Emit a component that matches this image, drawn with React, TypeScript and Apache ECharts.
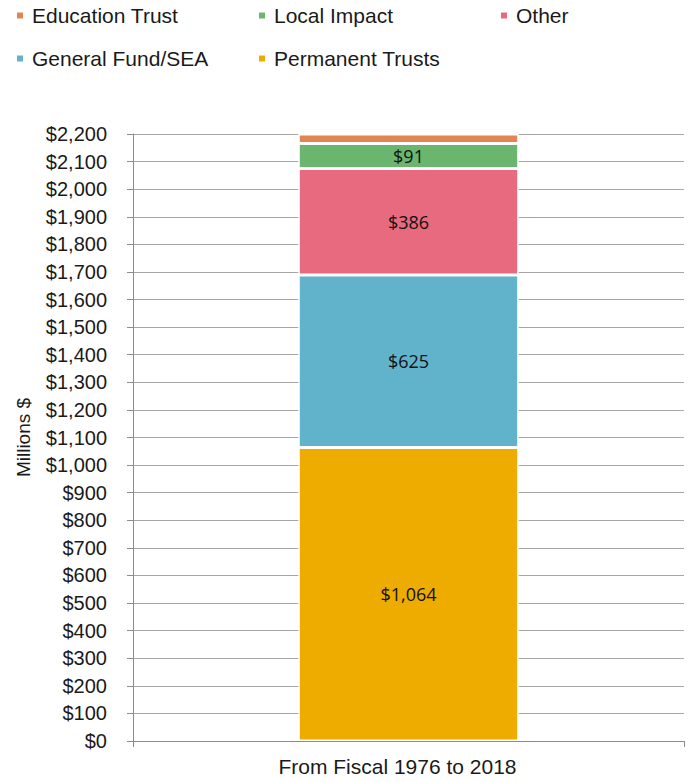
import React, { useEffect, useRef } from "react";
import * as echarts from "echarts";

const categories = ["From Fiscal 1976 to 2018"];
const permanentTrusts = [1064];
const generalFund = [625];
const other = [386];
const localImpact = [91];
const educationTrust = [34];
const seriesNames = ["Education Trust", "Local Impact", "Other", "General Fund/SEA", "Permanent Trusts"];
const seriesColors = ["#E38552", "#6BB66F", "#E76A7E", "#61B3CC", "#EFAC00"];

const fmt = (v: number) => "$" + v.toLocaleString("en-US");

export default function App() {
  const ref = useRef<HTMLDivElement>(null);
  useEffect(() => {
    if (!ref.current) return;
    const chart = echarts.init(ref.current, null, { renderer: "svg" });
    const legendPos = [
      { left: 10, top: 0 },
      { left: 252, top: 0 },
      { left: 494, top: 0 },
      { left: 10, top: 43 },
      { left: 252, top: 43 },
    ];
    const legends = seriesNames.map((n, i) => ({
      data: [n],
      left: legendPos[i].left,
      top: legendPos[i].top,
      icon: "rect",
      itemWidth: 8,
      itemHeight: 8,
      itemGap: 6,
      textStyle: { fontFamily: "Liberation Sans, Arial", fontSize: 21, color: "#1a1a1a", padding: [0, 0, 0, 3] },
    }));
    const labelStyle = {
      show: true,
      position: "inside" as const,
      fontFamily: "Open Sans, Liberation Sans",
      fontSize: 18,
      color: "#111",
      formatter: (p: any) => fmt(p.value),
    };
    const mk = (name: string, data: number[], color: string, showLabel: boolean) => ({
      name,
      type: "bar",
      stack: "total",
      data,
      barWidth: "40%",
      itemStyle: { color, borderColor: "#ffffff", borderWidth: 1.5 },
      label: showLabel ? labelStyle : { show: false },
    });
    chart.setOption({
      animation: false,
      legend: legends,
      grid: { left: 133, right: 5, top: 134, bottom: 41, containLabel: false },
      xAxis: {
        type: "category",
        data: categories,
        axisLine: { lineStyle: { color: "#8c8c8c", width: 1 } },
        axisTick: { show: true, length: 6, lineStyle: { color: "#8c8c8c" } },
        axisLabel: { fontFamily: "Liberation Sans, Arial", fontSize: 21, color: "#1a1a1a", margin: 15, padding: [0, 22, 0, 0] },
      },
      yAxis: {
        type: "value",
        min: 0,
        max: 2200,
        interval: 100,
        name: "Millions $",
        nameLocation: "middle",
        nameGap: 100,
        nameRotate: 90,
        nameTextStyle: { fontFamily: "Liberation Sans, Arial", fontSize: 19, color: "#1a1a1a" },
        axisLine: { show: true, lineStyle: { color: "#8c8c8c", width: 1 } },
        axisTick: { show: true, length: 6, lineStyle: { color: "#8c8c8c" } },
        axisLabel: { fontFamily: "Liberation Sans, Arial", fontSize: 20, color: "#1a1a1a", margin: 26, formatter: (v: number) => fmt(v) },
        splitLine: { show: true, lineStyle: { color: "#a6a6a6", width: 1 } },
      },
      series: [
        mk("Permanent Trusts", permanentTrusts, seriesColors[4], true),
        mk("General Fund/SEA", generalFund, seriesColors[3], true),
        mk("Other", other, seriesColors[2], true),
        mk("Local Impact", localImpact, seriesColors[1], true),
        mk("Education Trust", educationTrust, seriesColors[0], false),
      ],
    });
    return () => chart.dispose();
  }, []);
  return <div ref={ref} style={{ position: "fixed", left: 0, top: 0, width: 689, height: 782, background: "#fff" }} />;
}
